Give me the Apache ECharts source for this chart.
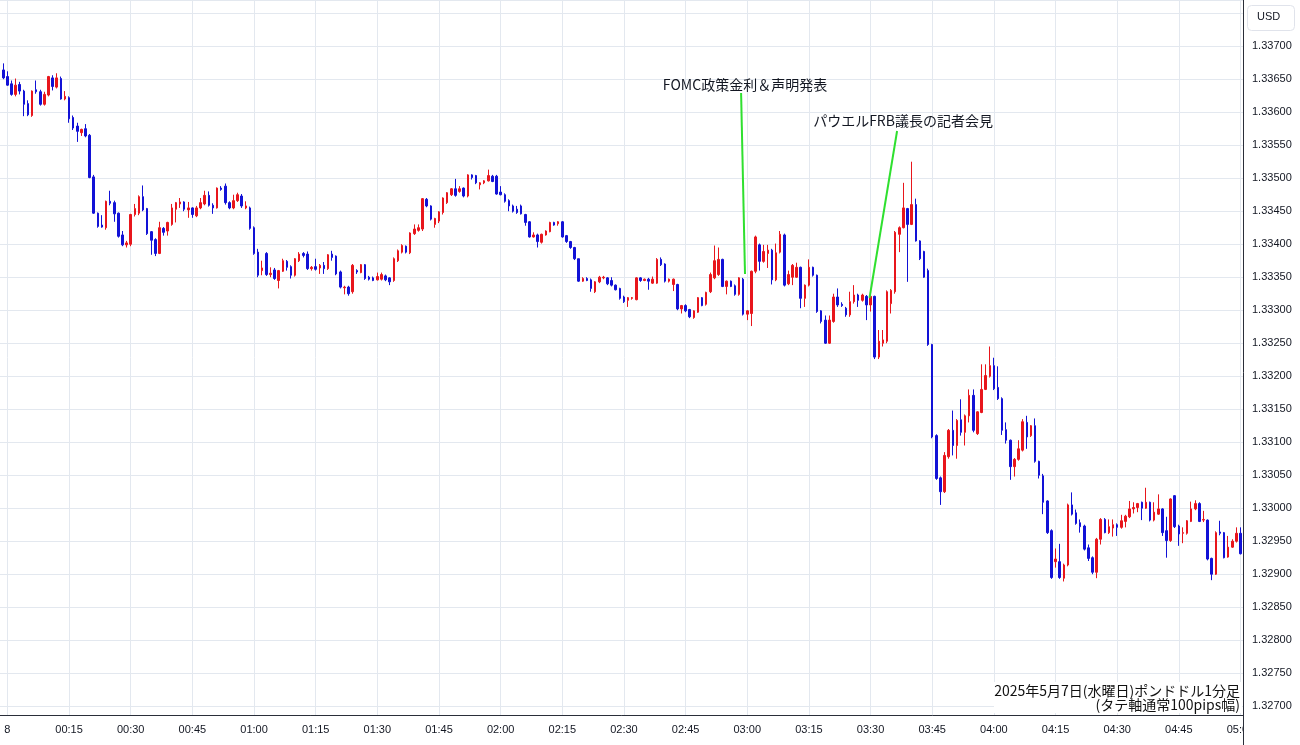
<!DOCTYPE html>
<html><head><meta charset="utf-8">
<script src="https://cdn.jsdelivr.net/npm/echarts@6/dist/echarts.min.js"></script>
<style>html,body{margin:0;padding:0;background:#fff;}#c{width:1300px;height:745px;}</style>
</head><body><div id="c"></div>
<script>
// GBP/USD 1-minute candles, first candle = 23:58 (7 May), minute offsets relative to 00:00 (8 May JST)
const FIRST_MINUTE = -2;
const DAY_LABEL = '8';
const openPrice = [
1.33668,1.33664,1.33654,1.33643,1.33627,1.33642,1.33632,1.33613,1.33595,1.33634,
1.33631,1.33612,1.33626,1.33652,1.33638,1.33651,1.33620,1.33622,1.33592,1.33579,
1.33569,1.33575,1.33565,1.33502,1.33447,1.33429,1.33425,1.33465,1.33463,1.33447,
1.33414,1.33399,1.33400,1.33445,1.33447,1.33472,1.33454,1.33419,1.33407,1.33386,
1.33424,1.33420,1.33430,1.33453,1.33461,1.33464,1.33452,1.33455,1.33443,1.33455,
1.33461,1.33474,1.33459,1.33455,1.33485,1.33488,1.33463,1.33455,1.33466,1.33473,
1.33455,1.33455,1.33425,1.33388,1.33360,1.33386,1.33354,1.33361,1.33345,1.33359,
1.33374,1.33366,1.33353,1.33375,1.33386,1.33385,1.33363,1.33366,1.33364,1.33368,
1.33363,1.33385,1.33382,1.33358,1.33334,1.33335,1.33328,1.33360,1.33357,1.33369,
1.33350,1.33349,1.33346,1.33347,1.33352,1.33349,1.33345,1.33375,1.33388,1.33397,
1.33387,1.33416,1.33421,1.33423,1.33468,1.33458,1.33430,1.33435,1.33448,1.33463,
1.33475,1.33484,1.33480,1.33485,1.33473,1.33505,1.33504,1.33490,1.33493,1.33496,
1.33503,1.33503,1.33479,1.33475,1.33466,1.33458,1.33453,1.33458,1.33445,1.33434,
1.33411,1.33414,1.33403,1.33414,1.33419,1.33433,1.33431,1.33434,1.33413,1.33404,
1.33395,1.33378,1.33344,1.33348,1.33346,1.33328,1.33343,1.33349,1.33349,1.33345,
1.33338,1.33333,1.33320,1.33315,1.33318,1.33316,1.33349,1.33345,1.33347,1.33341,
1.33341,1.33377,1.33370,1.33344,1.33339,1.33339,1.33302,1.33307,1.33301,1.33289,
1.33297,1.33319,1.33309,1.33328,1.33349,1.33354,1.33377,1.33336,1.33344,1.33337,
1.33324,1.33347,1.33294,1.33295,1.33359,1.33399,1.33374,1.33386,1.33391,1.33346,
1.33388,1.33414,1.33340,1.33350,1.33350,1.33365,1.33318,1.33338,1.33365,1.33353,
1.33299,1.33285,1.33250,1.33283,1.33320,1.33309,1.33303,1.33293,1.33313,1.33323,
1.33315,1.33321,1.33308,1.33321,1.33229,1.33250,1.33253,1.33310,1.33328,1.33415,
1.33425,1.33454,1.33430,1.33460,1.33405,1.33389,1.33360,1.33248,1.33110,1.33046,
1.33025,1.33078,1.33118,1.33095,1.33134,1.33115,1.33140,1.33171,1.33113,1.33145,
1.33180,1.33200,1.33216,1.33183,1.33166,1.33119,1.33103,1.33063,1.33074,1.33088,
1.33130,1.33110,1.33125,1.33071,1.33049,1.33011,1.32966,1.32919,1.32919,1.32894,
1.32914,1.33005,1.32993,1.32978,1.32973,1.32940,1.32925,1.32903,1.32953,1.32983,
1.32963,1.32970,1.32975,1.32971,1.32980,1.32987,1.32999,1.33001,1.33009,1.33000,
1.33009,1.32982,1.32991,1.32999,1.32966,1.32951,1.33019,1.32973,1.32962,1.32962,
1.32980,1.32999,1.33007,1.32982,1.32982,1.32924,1.32900,1.32964,1.32963,1.32926,
1.32941,1.32950,1.32962
];
const closePrice = [
1.33660,1.33652,1.33641,1.33627,1.33641,1.33632,1.33612,1.33596,1.33632,1.33631,
1.33612,1.33627,1.33654,1.33639,1.33652,1.33620,1.33624,1.33590,1.33576,1.33571,
1.33574,1.33564,1.33501,1.33447,1.33427,1.33426,1.33465,1.33462,1.33446,1.33412,
1.33399,1.33402,1.33445,1.33454,1.33472,1.33452,1.33416,1.33406,1.33386,1.33425,
1.33418,1.33433,1.33455,1.33463,1.33464,1.33453,1.33455,1.33445,1.33455,1.33463,
1.33474,1.33459,1.33455,1.33485,1.33483,1.33463,1.33455,1.33466,1.33475,1.33458,
1.33458,1.33424,1.33386,1.33353,1.33364,1.33354,1.33356,1.33348,1.33360,1.33375,
1.33365,1.33353,1.33378,1.33385,1.33383,1.33363,1.33365,1.33362,1.33368,1.33363,
1.33384,1.33380,1.33355,1.33335,1.33335,1.33325,1.33368,1.33358,1.33369,1.33348,
1.33347,1.33345,1.33351,1.33354,1.33346,1.33343,1.33378,1.33390,1.33398,1.33388,
1.33417,1.33423,1.33425,1.33469,1.33458,1.33438,1.33439,1.33449,1.33470,1.33478,
1.33484,1.33474,1.33484,1.33473,1.33505,1.33501,1.33493,1.33493,1.33496,1.33504,
1.33495,1.33476,1.33475,1.33465,1.33458,1.33450,1.33448,1.33446,1.33433,1.33411,
1.33414,1.33404,1.33415,1.33420,1.33433,1.33429,1.33434,1.33411,1.33404,1.33395,
1.33378,1.33344,1.33348,1.33345,1.33333,1.33343,1.33350,1.33350,1.33340,1.33338,
1.33331,1.33318,1.33313,1.33319,1.33319,1.33349,1.33345,1.33347,1.33344,1.33347,
1.33377,1.33369,1.33344,1.33347,1.33347,1.33302,1.33307,1.33299,1.33290,1.33299,
1.33319,1.33307,1.33327,1.33354,1.33375,1.33377,1.33336,1.33344,1.33336,1.33324,
1.33349,1.33294,1.33299,1.33359,1.33411,1.33374,1.33389,1.33391,1.33346,1.33387,
1.33415,1.33338,1.33354,1.33368,1.33365,1.33318,1.33338,1.33365,1.33353,1.33298,
1.33283,1.33250,1.33285,1.33320,1.33308,1.33307,1.33293,1.33313,1.33323,1.33315,
1.33323,1.33308,1.33321,1.33229,1.33253,1.33255,1.33328,1.33330,1.33418,1.33425,
1.33455,1.33430,1.33460,1.33405,1.33378,1.33350,1.33248,1.33108,1.33045,1.33025,
1.33080,1.33118,1.33095,1.33133,1.33115,1.33140,1.33171,1.33118,1.33146,1.33180,
1.33201,1.33216,1.33181,1.33166,1.33118,1.33103,1.33063,1.33074,1.33090,1.33131,
1.33108,1.33125,1.33071,1.33050,1.33009,1.32963,1.32895,1.32923,1.32895,1.32914,
1.33005,1.32991,1.32977,1.32972,1.32938,1.32924,1.32903,1.32953,1.32983,1.32963,
1.32972,1.32975,1.32971,1.32981,1.32988,1.32999,1.33001,1.33007,1.33000,1.33009,
1.32982,1.32994,1.32999,1.32963,1.32951,1.33014,1.32972,1.32961,1.32963,1.32981,
1.32999,1.33007,1.32980,1.32983,1.32923,1.32900,1.32963,1.32962,1.32925,1.32941,
1.32950,1.32962,1.32931
];
const lowPrice = [
1.33655,1.33650,1.33640,1.33625,1.33624,1.33627,1.33594,1.33594,1.33593,1.33628,
1.33610,1.33610,1.33624,1.33633,1.33636,1.33619,1.33618,1.33584,1.33573,1.33555,
1.33564,1.33562,1.33500,1.33446,1.33425,1.33425,1.33422,1.33459,1.33434,1.33410,
1.33397,1.33395,1.33397,1.33442,1.33444,1.33450,1.33414,1.33384,1.33382,1.33385,
1.33413,1.33413,1.33428,1.33433,1.33455,1.33450,1.33440,1.33440,1.33441,1.33453,
1.33459,1.33457,1.33446,1.33454,1.33481,1.33460,1.33453,1.33453,1.33464,1.33455,
1.33453,1.33422,1.33384,1.33350,1.33353,1.33352,1.33350,1.33346,1.33333,1.33358,
1.33360,1.33348,1.33351,1.33373,1.33380,1.33361,1.33360,1.33360,1.33355,1.33355,
1.33361,1.33375,1.33353,1.33333,1.33324,1.33322,1.33325,1.33355,1.33356,1.33346,
1.33345,1.33344,1.33345,1.33345,1.33344,1.33338,1.33343,1.33373,1.33386,1.33386,
1.33385,1.33414,1.33419,1.33420,1.33456,1.33436,1.33425,1.33432,1.33445,1.33461,
1.33473,1.33472,1.33478,1.33471,1.33471,1.33498,1.33491,1.33483,1.33491,1.33495,
1.33494,1.33475,1.33474,1.33463,1.33450,1.33448,1.33446,1.33445,1.33428,1.33410,
1.33410,1.33395,1.33401,1.33413,1.33418,1.33428,1.33428,1.33410,1.33402,1.33393,
1.33376,1.33343,1.33343,1.33344,1.33328,1.33326,1.33341,1.33347,1.33338,1.33336,
1.33330,1.33316,1.33311,1.33305,1.33316,1.33315,1.33343,1.33344,1.33331,1.33340,
1.33340,1.33367,1.33342,1.33342,1.33329,1.33300,1.33295,1.33297,1.33288,1.33287,
1.33296,1.33306,1.33307,1.33326,1.33347,1.33352,1.33335,1.33324,1.33335,1.33322,
1.33322,1.33292,1.33285,1.33276,1.33356,1.33360,1.33372,1.33364,1.33339,1.33344,
1.33386,1.33336,1.33338,1.33338,1.33349,1.33303,1.33305,1.33336,1.33351,1.33296,
1.33280,1.33249,1.33249,1.33281,1.33305,1.33305,1.33290,1.33290,1.33310,1.33305,
1.33313,1.33285,1.33298,1.33226,1.33226,1.33245,1.33250,1.33295,1.33325,1.33388,
1.33424,1.33343,1.33429,1.33404,1.33376,1.33349,1.33246,1.33106,1.33043,1.33005,
1.33023,1.33075,1.33080,1.33075,1.33110,1.33095,1.33130,1.33115,1.33111,1.33144,
1.33179,1.33198,1.33179,1.33164,1.33111,1.33098,1.33043,1.33048,1.33072,1.33086,
1.33090,1.33108,1.33069,1.33045,1.32991,1.32961,1.32893,1.32910,1.32893,1.32889,
1.32912,1.32989,1.32975,1.32963,1.32936,1.32920,1.32900,1.32894,1.32945,1.32962,
1.32961,1.32957,1.32958,1.32969,1.32971,1.32985,1.32992,1.32994,1.32982,1.32999,
1.32980,1.32980,1.32990,1.32958,1.32925,1.32949,1.32970,1.32943,1.32947,1.32960,
1.32979,1.32997,1.32979,1.32979,1.32921,1.32891,1.32899,1.32959,1.32924,1.32925,
1.32940,1.32948,1.32930
];
const highPrice = [
1.33672,1.33674,1.33662,1.33648,1.33651,1.33646,1.33634,1.33618,1.33633,1.33648,
1.33634,1.33631,1.33655,1.33656,1.33659,1.33654,1.33632,1.33624,1.33595,1.33584,
1.33575,1.33582,1.33567,1.33505,1.33448,1.33444,1.33466,1.33481,1.33466,1.33448,
1.33420,1.33405,1.33446,1.33461,1.33474,1.33489,1.33455,1.33420,1.33409,1.33434,
1.33426,1.33434,1.33461,1.33464,1.33470,1.33465,1.33464,1.33456,1.33458,1.33470,
1.33481,1.33480,1.33462,1.33486,1.33488,1.33492,1.33465,1.33475,1.33478,1.33476,
1.33465,1.33457,1.33427,1.33393,1.33375,1.33388,1.33365,1.33364,1.33361,1.33378,
1.33376,1.33368,1.33379,1.33388,1.33388,1.33389,1.33367,1.33378,1.33370,1.33373,
1.33385,1.33390,1.33383,1.33360,1.33337,1.33337,1.33370,1.33362,1.33370,1.33370,
1.33352,1.33351,1.33357,1.33357,1.33354,1.33350,1.33380,1.33392,1.33400,1.33398,
1.33418,1.33430,1.33430,1.33470,1.33470,1.33459,1.33440,1.33450,1.33471,1.33479,
1.33485,1.33499,1.33488,1.33486,1.33506,1.33506,1.33505,1.33494,1.33497,1.33513,
1.33505,1.33505,1.33488,1.33477,1.33468,1.33460,1.33458,1.33460,1.33446,1.33435,
1.33418,1.33416,1.33416,1.33421,1.33434,1.33434,1.33435,1.33435,1.33414,1.33405,
1.33396,1.33378,1.33350,1.33350,1.33348,1.33344,1.33352,1.33352,1.33350,1.33350,
1.33339,1.33334,1.33322,1.33320,1.33320,1.33350,1.33350,1.33348,1.33349,1.33351,
1.33379,1.33380,1.33371,1.33348,1.33348,1.33340,1.33308,1.33309,1.33302,1.33300,
1.33320,1.33320,1.33328,1.33357,1.33398,1.33395,1.33378,1.33345,1.33345,1.33339,
1.33350,1.33349,1.33300,1.33360,1.33413,1.33401,1.33399,1.33399,1.33393,1.33401,
1.33420,1.33416,1.33360,1.33370,1.33372,1.33366,1.33339,1.33377,1.33366,1.33354,
1.33300,1.33292,1.33292,1.33325,1.33333,1.33312,1.33305,1.33328,1.33338,1.33325,
1.33325,1.33323,1.33322,1.33322,1.33270,1.33270,1.33330,1.33332,1.33420,1.33427,
1.33493,1.33455,1.33525,1.33469,1.33406,1.33390,1.33363,1.33249,1.33112,1.33048,
1.33085,1.33120,1.33148,1.33135,1.33165,1.33142,1.33180,1.33180,1.33147,1.33218,
1.33218,1.33245,1.33228,1.33215,1.33168,1.33130,1.33104,1.33076,1.33103,1.33135,
1.33140,1.33126,1.33136,1.33072,1.33052,1.33012,1.32968,1.32939,1.32946,1.32916,
1.33007,1.33024,1.32998,1.32983,1.32975,1.32945,1.32927,1.32955,1.32985,1.32985,
1.32983,1.32983,1.32977,1.32990,1.32990,1.33011,1.33009,1.33008,1.33010,1.33031,
1.33010,1.33009,1.33021,1.33000,1.32987,1.33015,1.33020,1.32975,1.32971,1.32982,
1.33010,1.33012,1.33009,1.32996,1.32983,1.32925,1.32965,1.32981,1.32964,1.32958,
1.32953,1.32971,1.32971
];
// Event annotations (minute offset, price)
const annotationNames = ['FOMC政策金利＆声明発表', 'パウエルFRB議長の記者会見'];
const annotationLabelAt = [[179.45, 1.336412], [217.9, 1.335867]];
const annotationLineFrom = [[178.5, 1.336290], [216.45, 1.335715]];
const annotationLineTo = [[179.45, 1.333550], [209.75, 1.333185]];
const captionLines = ['2025年5月7日(水曜日)ポンドドル1分足', '(タテ軸通常100pips幅)'];
const currencyLabel = 'USD';

const UP = '#e8161c', DOWN = '#1212d6', GRID = '#e3e8ef', AXIS = '#2a2e39', TXT = '#131722';
const LATIN = '"Liberation Sans", Arial, sans-serif';
const CJK = '"Noto Sans CJK JP", "Noto Sans", sans-serif';

const minutes = openPrice.map((_, i) => FIRST_MINUTE + i);
const candleData = minutes.map((m, i) => [m, openPrice[i], closePrice[i], lowPrice[i], highPrice[i]]);

function timeLabel(v) {
  if (v < 0 || Math.abs(v - Math.round(v)) > 1e-6 || Math.round(v) % 15 !== 0) return '';
  const m = Math.round(v);
  if (m === 0) return DAY_LABEL;
  const h = Math.floor(m / 60), mm = m % 60;
  return String(h).padStart(2, '0') + ':' + String(mm).padStart(2, '0');
}
function priceLabel(v) {
  const k = v / 0.0005;
  if (Math.abs(k - Math.round(k)) > 1e-4) return '';
  if (v > 1.33705) return '';
  return v.toFixed(5);
}

const chart = echarts.init(document.getElementById('c'), null, {renderer: 'canvas'});
chart.setOption({
  animation: false,
  backgroundColor: '#ffffff',
  textStyle: {fontFamily: LATIN},
  grid: {left: -54.25, right: 57, top: 0, bottom: 30, containLabel: false, outerBoundsMode: 'none'},
  xAxis: {
    type: 'value', min: -15, max: 300.61, interval: 15,
    axisLine: {show: true, lineStyle: {color: AXIS, width: 1}},
    axisTick: {show: false},
    splitLine: {show: true, lineStyle: {color: GRID, width: 1}},
    axisLabel: {formatter: timeLabel, color: TXT, fontSize: 11, fontFamily: LATIN, margin: 9, showMinLabel: true, showMaxLabel: true, hideOverlap: false},
    z: 0
  },
  yAxis: {
    type: 'value', position: 'right', scale: true,
    min: 1.326867, max: 1.3377, minInterval: 0.0005, maxInterval: 0.0005, splitNumber: 22,
    axisLine: {show: false}, axisTick: {show: false},
    splitLine: {show: true, lineStyle: {color: GRID, width: 1}},
    axisLabel: {formatter: priceLabel, color: TXT, fontSize: 11, fontFamily: LATIN, margin: 9, showMinLabel: false, showMaxLabel: false}
  },
  series: [{
    type: 'candlestick',
    data: candleData,
    barWidth: 2,
    clip: true,
    itemStyle: {color: UP, color0: DOWN, borderColor: UP, borderColor0: DOWN, borderWidth: 1},
    markLine: {
      silent: true, symbol: ['none', 'none'], animation: false,
      label: {show: false},
      lineStyle: {color: '#2fe02f', width: 2, type: 'solid'},
      emphasis: {disabled: true},
      data: annotationNames.map((n, i) => [{coord: annotationLineFrom[i]}, {coord: annotationLineTo[i]}])
    },
    markPoint: {
      silent: true, symbol: 'circle', symbolSize: 1, animation: false,
      itemStyle: {color: 'rgba(0,0,0,0)'},
      label: {show: true, position: 'inside', formatter: '{b}', color: TXT, fontSize: 14, fontFamily: CJK},
      data: annotationNames.map((n, i) => ({name: n, coord: annotationLabelAt[i]}))
    }
  }],
  graphic: {elements: [
    {type: 'rect', z: 100, shape: {x: 1244, y: 716, width: 56, height: 29}, style: {fill: '#ffffff'}},
    {type: 'line', z: 101, shape: {x1: 1243.5, y1: 0, x2: 1243.5, y2: 745}, style: {stroke: AXIS, lineWidth: 1}},
    {type: 'rect', z: 100, shape: {x: 1247.5, y: 5.5, width: 47, height: 25, r: 4}, style: {fill: '#ffffff', stroke: '#e0e3eb', lineWidth: 1}},
    {type: 'text', z: 101, left: 1257, top: 11, style: {text: currencyLabel, fill: TXT, font: '11px ' + LATIN}},
    {type: 'rect', z: 90, shape: {x: 994, y: 682, width: 248, height: 31}, style: {fill: '#ffffff'}},
    {type: 'text', z: 95, right: 60, top: 684, style: {text: captionLines[0], fill: '#111111', font: '14px ' + CJK}},
    {type: 'text', z: 95, right: 60, top: 698, style: {text: captionLines[1], fill: '#111111', font: '14px ' + CJK}}
  ]}
});
</script>
</body></html>
